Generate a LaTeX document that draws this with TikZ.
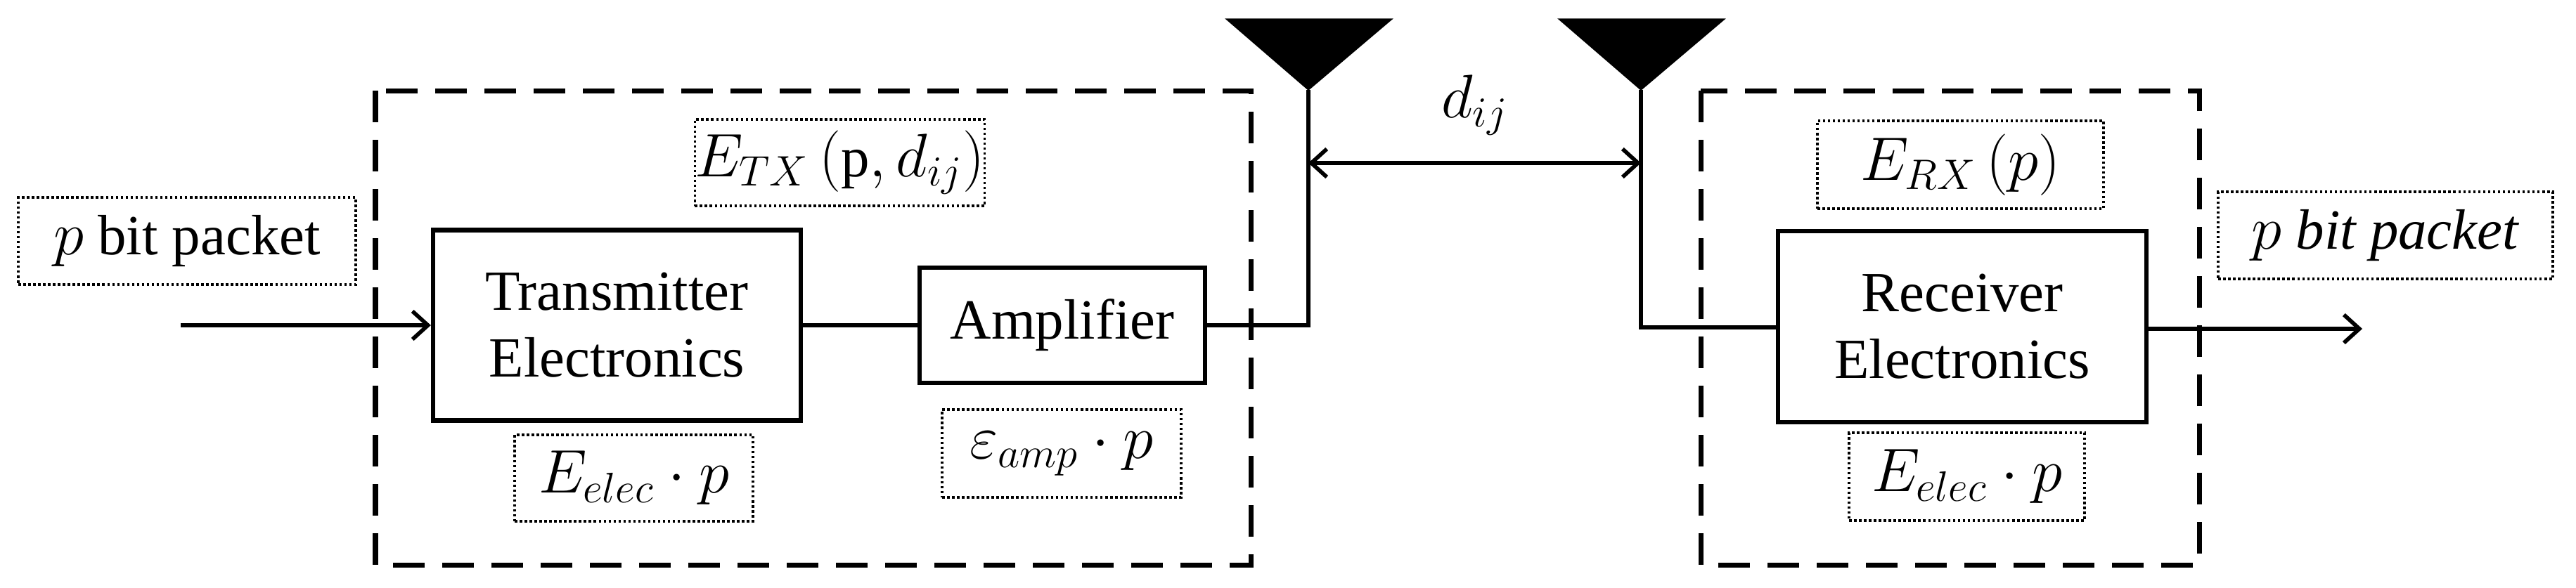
\documentclass[tikz,border=0pt]{standalone}
\usepackage{fontspec}
\setmainfont{Liberation Serif}
\usetikzlibrary{arrows.meta}
\tikzset{
  block/.style={rectangle, draw=black, line width=1.8pt, align=center, inner sep=0pt},
  note/.style={rectangle, draw=black, densely dotted, line width=1pt, inner sep=0pt},
  group/.style={draw=black, line width=2pt, dash pattern=on 0.45cm off 0.25cm},
  wire/.style={line width=1.8pt},
  arrow/.style={line width=1.8pt, -{Straight Barb[length=0.22cm, width=0.4cm, line width=1.6pt]}},
  antenna/.style={fill=black, draw=black}
}
\begin{document}
\begin{tikzpicture}[font=\fontsize{23}{27}\selectfont]
	\useasboundingbox (0,0) rectangle (36.64,-8.36);
	% dashed groups
	\draw [group] (5.34,-1.29) rectangle (17.79,-8.04);
	\draw [group] (24.19,-1.29) rectangle (31.28,-8.04);
	% blocks
	\node (tx) [block, minimum width=5.23cm, minimum height=2.71cm] at (8.775,-4.63) {Transmitter\\Electronics};
	\node (amp) [block, minimum width=4.06cm, minimum height=1.64cm] at (15.11,-4.63) {Amplifier};
	\node (rx) [block, minimum width=5.24cm, minimum height=2.72cm] at (27.91,-4.65) {Receiver\\Electronics};
	% dotted labels
	\node (pin) [note, minimum width=4.8cm, minimum height=1.24cm] at (2.66,-3.43) {$p$ bit packet};
	\node (etx) [note, minimum width=4.05cm, minimum height=1.23cm] at (11.945,-2.315) {$E_{TX}\,(\mathrm{p},d_{ij})$};
	\node (eeltx) [note, minimum width=3.39cm, minimum height=1.23cm] at (9.015,-6.805) {$E_{elec}\cdot p$};
	\node (eamp) [note, minimum width=3.4cm, minimum height=1.25cm] at (15.1,-6.455) {$\varepsilon_{amp}\cdot p$};
	\node (erx) [note, minimum width=4.07cm, minimum height=1.25cm] at (27.885,-2.345) {$E_{RX}\,(p)$};
	\node (eelrx) [note, minimum width=3.35cm, minimum height=1.25cm] at (27.975,-6.785) {$E_{elec}\cdot p$};
	\node (pout) [note, minimum width=4.76cm, minimum height=1.24cm] at (33.93,-3.35) {$p$ \textit{bit packet}};
	% antennas
	\coordinate (anta) at (18.61,-1.28);
	\coordinate (antb) at (23.34,-1.28);
	\fill [antenna] (anta) -- ++(-1.17,1.01) -- ++(2.36,0) -- cycle;
	\fill [antenna] (antb) -- ++(-1.17,1.01) -- ++(2.36,0) -- cycle;
	\coordinate (in) at (2.57,-4.63);
	\coordinate (out) at (33.6,-4.68);
	\coordinate (feeda) at (18.61,-4.63);
	\coordinate (feedb) at (23.34,-4.66);
	% connectors
	\draw [arrow] (in) -- (tx.west);
	\draw [wire] (tx.east) -- (amp.west);
	\draw [wire] (amp.east) -- (feeda) -- (anta);
	\draw [wire] (antb) -- (feedb) -- (rx.west |- feedb);
	\draw [arrow] (rx.east |- out) -- (out);
	\draw [line width=1.8pt, {Straight Barb[length=0.22cm, width=0.4cm, line width=1.6pt]}-{Straight Barb[length=0.22cm, width=0.4cm, line width=1.6pt]}] (18.61,-2.32) -- node[above=0.25cm] {$d_{ij}$} (23.34,-2.32);
\end{tikzpicture}
\end{document}
